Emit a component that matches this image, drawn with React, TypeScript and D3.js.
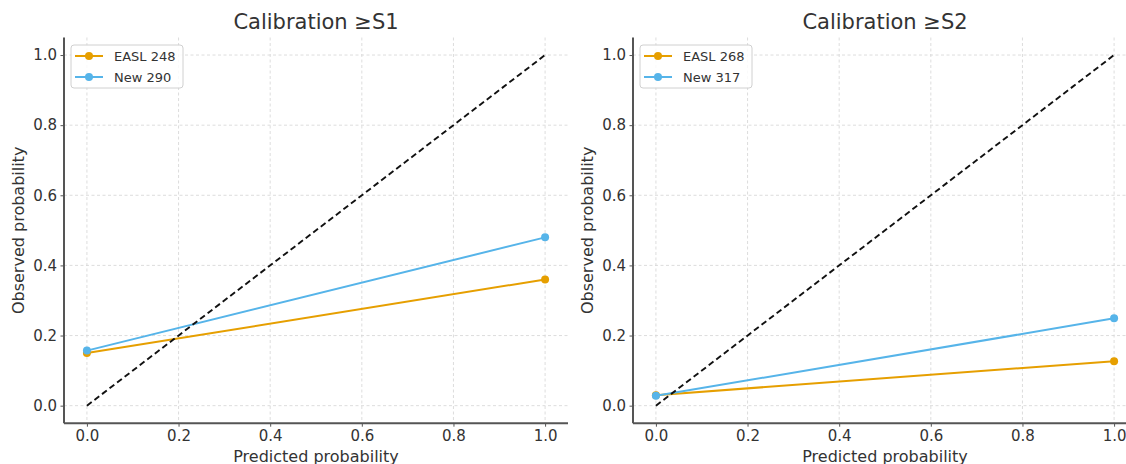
import React, { useEffect, useRef } from 'react';
import * as d3 from 'd3';

// predicted probability bins (x) and observed probability (y)
const predicted = [0, 1];
const s1Easl = [0.15, 0.36];
const s1New = [0.157, 0.48];
const s2Easl = [0.03, 0.127];
const s2New = [0.028, 0.249];

const titles = ['Calibration ≥S1', 'Calibration ≥S2'];
const s1Labels = ['EASL 248', 'New 290'];
const s2Labels = ['EASL 268', 'New 317'];
const ticks = [0, 0.2, 0.4, 0.6, 0.8, 1.0];

const colors = ['#E69F00', '#56B4E9'];
const font = 'DejaVu Sans, sans-serif';

const panels = [
  { title: titles[0], labels: s1Labels, series: [s1Easl, s1New], left: 64 },
  { title: titles[1], labels: s2Labels, series: [s2Easl, s2New], left: 633 },
];

const App = () => {
  const svgRef = useRef(null);

  useEffect(() => {
    document.body.style.margin = '0';
    const svg = d3.select(svgRef.current);
    svg.selectAll('*').remove();

    const top = 37.5;
    const bottom = 423.2;
    const plotW = 504;

    panels.forEach((p) => {
      const x = d3.scaleLinear().domain([-0.05, 1.05]).range([p.left, p.left + plotW]);
      const y = d3.scaleLinear().domain([-0.05, 1.05]).range([bottom, top]);
      const g = svg.append('g');

      // grid
      g.selectAll('.gx').data(ticks).enter().append('line')
        .attr('x1', (d) => x(d)).attr('x2', (d) => x(d))
        .attr('y1', top).attr('y2', bottom)
        .attr('stroke', '#d4d4d4').attr('stroke-width', 0.8)
        .attr('stroke-dasharray', '3,2.5');
      g.selectAll('.gy').data(ticks).enter().append('line')
        .attr('x1', p.left).attr('x2', p.left + plotW)
        .attr('y1', (d) => y(d)).attr('y2', (d) => y(d))
        .attr('stroke', '#d4d4d4').attr('stroke-width', 0.8)
        .attr('stroke-dasharray', '3,2.5');

      const line = d3.line<number>()
        .x((d, i) => x(predicted[i]))
        .y((d) => y(d));

      p.series.forEach((s, k) => {
        g.append('path')
          .attr('d', line(s))
          .attr('fill', 'none')
          .attr('stroke', colors[k])
          .attr('stroke-width', 2);
        g.selectAll('.m' + k).data(s).enter().append('circle')
          .attr('cx', (d, i) => x(predicted[i]))
          .attr('cy', (d) => y(d))
          .attr('r', 4)
          .attr('fill', colors[k]);
      });

      // perfect calibration diagonal
      g.append('line')
        .attr('x1', x(0)).attr('y1', y(0))
        .attr('x2', x(1)).attr('y2', y(1))
        .attr('stroke', '#111').attr('stroke-width', 1.9)
        .attr('stroke-dasharray', '6,3.5');

      // axes
      const xAxis = g.append('g')
        .attr('transform', `translate(0,${bottom})`)
        .call(d3.axisBottom(x).tickValues(ticks).tickFormat(d3.format('.1f')).tickSize(3.5).tickPadding(4));
      const yAxis = g.append('g')
        .attr('transform', `translate(${p.left},0)`)
        .call(d3.axisLeft(y).tickValues(ticks).tickFormat(d3.format('.1f')).tickSize(3.5).tickPadding(3.5));
      [xAxis, yAxis].forEach((a) => {
        a.select('.domain').attr('stroke', '#555').attr('stroke-width', 2);
        a.selectAll('.tick line').attr('stroke', '#555').attr('stroke-width', 1);
        a.selectAll('.tick text').attr('fill', '#333').attr('font-size', 15).attr('font-family', font);
      });
      xAxis.select('.domain').attr('d', `M${p.left},0H${p.left + plotW}`);
      yAxis.select('.domain').attr('d', `M0,${top}V${bottom}`);

      // title and labels
      g.append('text')
        .attr('x', p.left + plotW / 2).attr('y', 29)
        .attr('text-anchor', 'middle')
        .attr('font-family', font).attr('font-size', 21).attr('fill', '#333')
        .text(p.title);
      g.append('text')
        .attr('x', p.left + plotW / 2).attr('y', 462)
        .attr('text-anchor', 'middle')
        .attr('font-family', font).attr('font-size', 16).attr('fill', '#333')
        .text('Predicted probability');
      g.append('text')
        .attr('transform', `translate(${p.left - 40},${(top + bottom) / 2}) rotate(-90)`)
        .attr('text-anchor', 'middle')
        .attr('font-family', font).attr('font-size', 16).attr('fill', '#333')
        .text('Observed probability');

      // legend
      const lg = g.append('g').attr('transform', `translate(${p.left + 7},45)`);
      lg.append('rect')
        .attr('width', 112).attr('height', 43).attr('rx', 3)
        .attr('fill', 'white').attr('fill-opacity', 0.85)
        .attr('stroke', '#d0d0d0').attr('stroke-width', 1);
      p.labels.forEach((lab, k) => {
        const ly = 11 + k * 21;
        lg.append('line')
          .attr('x1', 4).attr('x2', 32).attr('y1', ly).attr('y2', ly)
          .attr('stroke', colors[k]).attr('stroke-width', 2);
        lg.append('circle').attr('cx', 18).attr('cy', ly).attr('r', 4).attr('fill', colors[k]);
        lg.append('text')
          .attr('x', 43).attr('y', ly + 4.5)
          .attr('font-family', font).attr('font-size', 13).attr('fill', '#333')
          .text(lab);
      });
    });
  }, []);

  return (
    <div>
      <svg ref={svgRef} width={1126} height={464} style={{ display: 'block', background: 'white' }} />
    </div>
  );
};

export default App;
